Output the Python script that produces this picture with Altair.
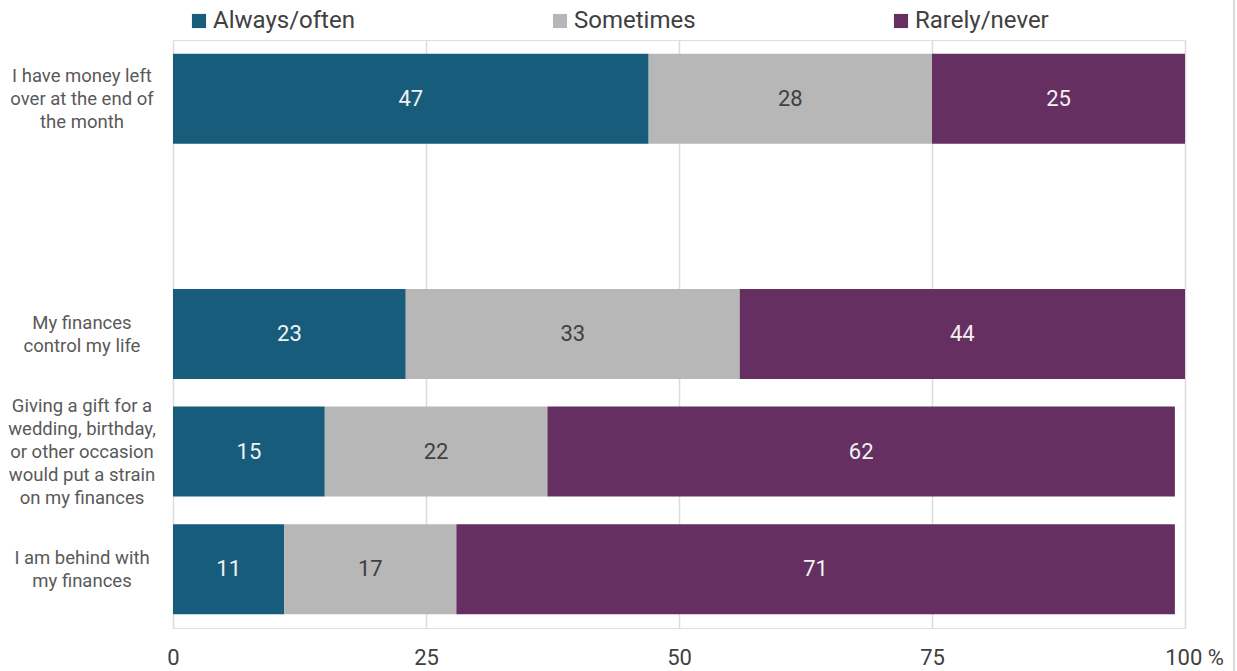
import altair as alt
import pandas as pd

categories = [
    "I have money left|over at the end of|the month",
    " ",
    "My finances|control my life",
    "Giving a gift for a|wedding, birthday,|or other occasion|would put a strain|on my finances",
    "I am behind with|my finances",
]
series = ["Always/often", "Sometimes", "Rarely/never"]
always_often = [47, None, 23, 15, 11]
sometimes = [28, None, 33, 22, 17]
rarely_never = [25, None, 44, 62, 71]
colors = ["#185c7b", "#b7b7b7", "#652f61"]
text_colors = ["#f2f2f2", "#404040", "#f2f2f2"]

rows = []
for i, cat in enumerate(categories):
    for j, (s, vals) in enumerate(zip(series, [always_often, sometimes, rarely_never])):
        if vals[i] is not None:
            rows.append({"cat": cat, "series": s, "value": vals[i], "ord": j})
df = pd.DataFrame(rows)
cat_df = pd.DataFrame({"cat": categories})

font = "Roboto"
line_h = 23

y_scale = alt.Scale(domain=categories, paddingInner=0.235, paddingOuter=0.1175)
y_enc = alt.Y(
    "cat:N",
    sort=categories,
    scale=y_scale,
    axis=alt.Axis(title=None, ticks=False, domain=False, grid=False, labels=False),
)

base = alt.Chart(df).transform_stack(
    stack="value", as_=["x0", "x1"], groupby=["cat"], sort=[alt.SortField("ord")]
).transform_calculate(mid="(datum.x0 + datum.x1) / 2")

bars = base.mark_bar(size=90).encode(
    x=alt.X(
        "x0:Q",
        scale=alt.Scale(domain=[0, 100], nice=False),
        axis=alt.Axis(
            title=None,
            values=[0, 25, 50, 75, 100],
            grid=True,
            gridColor="#dcdcdc",
            gridWidth=1.5,
            domain=False,
            ticks=False,
            labelFlush=False,
            labelPadding=19,
            labelFontSize=22,
            labelColor="#404040",
            labelFont=font,
            labelOffset={"condition": {"test": "datum.value == 100", "value": 9}, "value": 0},
            labelExpr="datum.value == 100 ? '100 %' : datum.label",
        ),
    ),
    x2="x1:Q",
    y=y_enc,
    color=alt.Color(
        "series:N",
        sort=series,
        scale=alt.Scale(domain=series, range=colors),
        legend=alt.Legend(
            title=None,
            orient="none",
            legendX=14,
            legendY=-31,
            direction="horizontal",
            symbolType="square",
            symbolSize=200,
            symbolStrokeWidth=0,
            labelFontSize=24,
            labelColor="#404040",
            labelFont=font,
            labelOffset=2,
            columnPadding=193,
            labelLimit=300,
        ),
    ),
    order=alt.Order("ord:Q"),
)

texts = base.mark_text(fontSize=22, font=font, baseline="middle").encode(
    x=alt.X("mid:Q"),
    y=alt.Y("cat:N", sort=categories),
    text=alt.Text("value:Q"),
    color=alt.Color("series:N", scale=alt.Scale(domain=series, range=text_colors), legend=None),
)

label_layers = []
for n in sorted({len(c.split("|")) for c in categories if c.strip()}):
    label_layers.append(
        alt.Chart(cat_df)
        .transform_calculate(n="length(split(datum.cat, '|'))")
        .transform_filter(f"datum.n == {n}")
        .mark_text(
            fontSize=18.5,
            font=font,
            align="center",
            baseline="middle",
            lineBreak="|",
            lineHeight=line_h,
            color="#595959",
            dy=-(n - 1) * line_h / 2,
        )
        .encode(
            x=alt.value(-91),
            y=alt.Y("cat:N", sort=categories),
            text="cat:N",
        )
    )

frame = alt.Chart(cat_df.head(1)).mark_rule(color="#d9d9d9", strokeWidth=2).encode(
    x=alt.value(1061), y=alt.value(-40), y2=alt.value(631)
)

chart = (
    alt.layer(bars, texts, *label_layers, frame)
    .resolve_scale(color="independent")
    .properties(
        width=1012,
        height=588,
        autosize=alt.AutoSizeParams(type="none"),
        padding={"left": 173, "top": 40, "right": 52, "bottom": 43},
    )
    .configure_view(stroke=None)
    .configure(background="white")
)

chart.save("out.html", embed_options={"renderer": "svg", "actions": False})
